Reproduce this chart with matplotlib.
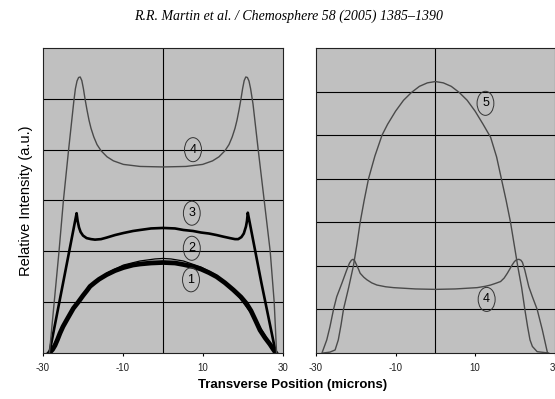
import matplotlib
matplotlib.use('Agg')
import matplotlib.pyplot as plt

plt.rcParams['font.family'] = ['Liberation Sans', 'DejaVu Sans']

# 左图数据（横向位置 / 相对强度）
x1 = [-28.4, -27.6, -27.0, -26.4, -25.75, -25.0, -24.0, -23.2, -22.4, -21.2, -20.0, -19.0, -18.25,
      -17.0, -16.0, -14.1, -12.0, -9.9, -7.5, -5.75, -3.0, 0.0, 3.0, 5.1, 7.5, 9.5, 11.5, 13.4,
      15.5, 17.6, 19.5, 20.9, 22.0, 23.2, 24.25, 25.5, 26.75, 27.5, 28.2]
y1 = [0.0, 0.07, 0.15, 0.26, 0.39, 0.52, 0.66, 0.77, 0.88, 1.0, 1.13, 1.23, 1.31,
      1.39, 1.45, 1.54, 1.62, 1.68, 1.73, 1.75, 1.77, 1.78, 1.77, 1.74, 1.7, 1.65, 1.58, 1.5,
      1.38, 1.24, 1.1, 0.97, 0.83, 0.63, 0.45, 0.3, 0.17, 0.08, 0.0]

x2 = [-28.4, -22.4, -18.25, -14.1, -9.9, -5.75, -2.0, 0.0, 2.0, 5.1, 9.5, 13.4, 17.6, 22.6, 28.2]
y2 = [0.0, 0.88, 1.31, 1.57, 1.73, 1.81, 1.85, 1.86, 1.85, 1.81, 1.69, 1.53, 1.25, 0.72, 0.0]

x3 = [-28.4, -25.0, -21.6, -21.35, -21.0, -20.6, -20.0, -19.1, -18.0, -17.0, -15.5, -14.1, -12.0, -9.9,
      -7.5, -5.75, -3.0, 0.0, 3.0, 5.1, 7.5, 9.5, 11.5, 13.4, 15.0, 16.75, 18.0, 18.8, 19.6, 20.2,
      20.75, 21.0, 21.2, 24.6, 28.2]
y3 = [0.0, 1.37, 2.75, 2.6, 2.47, 2.38, 2.31, 2.26, 2.24, 2.23, 2.24, 2.27, 2.32, 2.36,
      2.4, 2.42, 2.45, 2.46, 2.45, 2.42, 2.4, 2.37, 2.35, 2.32, 2.29, 2.26, 2.24, 2.24, 2.28, 2.35,
      2.49, 2.6, 2.76, 1.38, 0.0]

x4 = [-28.4, -27.2, -26.0, -24.9, -23.6, -22.3, -21.9, -21.5, -21.1, -20.7, -20.3, -19.9, -19.5,
      -19.0, -18.5, -18.0, -17.3, -16.5, -15.5, -14.0, -12.4, -9.9, -5.75, 0.0, 5.75, 9.9, 12.4,
      14.0, 15.5, 16.5, 17.3, 18.0, 18.5, 19.0, 19.5, 19.9, 20.3, 20.7, 21.1, 21.5, 21.9, 22.5,
      23.8, 25.3, 26.8, 27.8, 28.4]
y4 = [0.0, 1.0, 2.0, 3.0, 4.0, 4.95, 5.2, 5.35, 5.42, 5.43, 5.36, 5.2, 5.0,
      4.78, 4.58, 4.42, 4.25, 4.1, 3.98, 3.86, 3.78, 3.71, 3.67, 3.66, 3.67, 3.71, 3.78,
      3.86, 3.98, 4.1, 4.25, 4.42, 4.58, 4.78, 5.0, 5.2, 5.36, 5.43, 5.42, 5.35, 5.2, 4.9,
      4.0, 3.0, 2.0, 1.0, 0.0]

# 右图数据
x5 = [-28.2, -26.5, -25.2, -24.4, -23.7, -23.1, -21.8, -20.6, -19.7, -18.9, -17.9, -16.8,
      -15.2, -13.4, -12.0, -10.0, -8.0, -6.0, -4.0, -2.0, 0.0, 2.0, 4.0, 6.0, 8.0, 10.0, 12.0,
      13.9, 15.4, 16.6, 17.8, 18.9, 19.8, 20.7, 21.7, 22.5, 23.2, 23.8, 24.4, 25.6, 28.5]
y5 = [0.0, 0.02, 0.07, 0.3, 0.65, 1.0, 1.5, 2.0, 2.5, 3.0, 3.5, 4.0,
      4.52, 5.0, 5.25, 5.55, 5.8, 5.98, 6.12, 6.2, 6.23, 6.2, 6.12, 5.98, 5.8, 5.55, 5.25,
      4.95, 4.5, 4.0, 3.5, 3.0, 2.5, 2.0, 1.5, 1.0, 0.6, 0.3, 0.15, 0.03, 0.0]

x6 = [-28.5, -27.3, -26.5, -25.6, -24.8, -23.5, -22.3, -21.6, -21.1, -20.7, -20.3, -19.8, -19.3,
      -18.9, -18.0, -17.2, -16.0, -14.7, -12.5, -10.5, -5.0, 0.0, 5.0, 10.5, 12.5, 13.9, 15.2,
      16.4, 17.3, 18.1, 18.8, 19.3, 19.9, 20.4, 21.0, 21.5, 21.9, 22.5, 23.5, 24.4, 25.6, 26.9, 28.2]
y6 = [0.0, 0.3, 0.6, 1.0, 1.29, 1.6, 1.9, 2.06, 2.13, 2.15, 2.12, 2.02, 1.92,
      1.83, 1.74, 1.68, 1.61, 1.56, 1.52, 1.5, 1.47, 1.46, 1.47, 1.5, 1.53, 1.56, 1.6,
      1.64, 1.72, 1.83, 1.94, 2.02, 2.1, 2.14, 2.15, 2.13, 2.08, 1.9, 1.52, 1.29, 1.0, 0.53, 0.0]

xticks = [-30, -10, 10, 30]
bg = '#c0c0c0'
thin = '#4a4a4a'

fig = plt.figure(figsize=(5.55, 3.99), dpi=100)
ax1 = fig.add_axes([0.0775, 0.1153, 0.4324, 0.7644])
ax2 = fig.add_axes([0.5694, 0.1153, 0.4300, 0.7644])

for ax, top in [(ax1, 6), (ax2, 7)]:
    ax.set_facecolor(bg)
    ax.set_xlim(-30, 30)
    ax.set_ylim(0, top)
    ax.set_xticks(xticks)
    ax.set_xticklabels([str(t) for t in xticks], fontsize=7, color='#222222')
    ax.set_yticks([])
    ax.tick_params(axis='x', direction='out', length=2.5, width=0.8, pad=5)
    for y in range(1, top):
        ax.axhline(y, color='black', lw=0.8, zorder=1)
    ax.axvline(0, color='black', lw=0.8, zorder=1)
    for s in ax.spines.values():
        s.set_linewidth(0.8)
        s.set_color('#222222')

# 左图曲线
ax1.plot(x1, y1, color='black', lw=3.4, zorder=3, solid_joinstyle='round')
ax1.plot(x2, y2, color='black', lw=0.9, zorder=3)
ax1.plot(x3, y3, color='black', lw=1.9, zorder=3)
ax1.plot(x4, y4, color=thin, lw=1.0, zorder=3)

# 右图曲线
ax2.plot(x5, y5, color=thin, lw=1.0, zorder=3)
ax2.plot(x6, y6, color=thin, lw=1.0, zorder=3)

# 编号标注（椭圆）
def tag(ax, x, y, s):
    ax.text(x, y, s, fontsize=9, ha='center', va='center', zorder=4,
            bbox=dict(boxstyle='ellipse,pad=0.2', fc='none', ec='#333333', lw=0.7))

tag(ax1, 7.5, 4.0, '4')
tag(ax1, 7.2, 2.75, '3')
tag(ax1, 7.2, 2.06, '2')
tag(ax1, 7.0, 1.44, '1')
tag(ax2, 12.6, 5.73, '5')
tag(ax2, 12.9, 1.23, '4')

ax1.set_ylabel('Relative Intensity (a.u.)', fontsize=10.5, labelpad=7)
fig.text(0.528, 0.035, 'Transverse Position (microns)', fontsize=9.5, fontweight='bold',
         ha='center', va='center')
fig.text(0.52, 0.96, 'R.R. Martin et al. / Chemosphere 58 (2005) 1385\u20131390',
         fontsize=10, ha='center', va='center', style='italic', family='Liberation Serif')

plt.savefig('out.png', dpi=100)
